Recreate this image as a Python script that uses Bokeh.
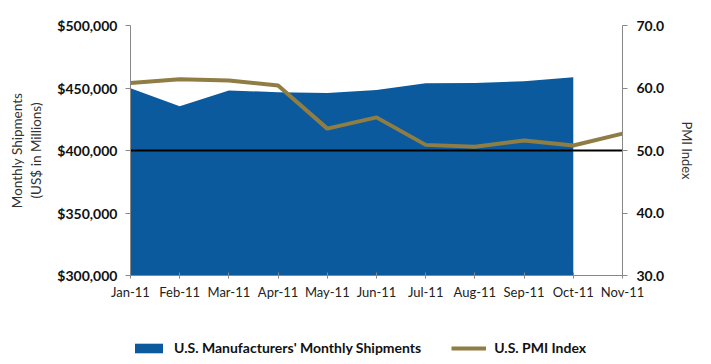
from bokeh.plotting import figure
from bokeh.models import (Range1d, LinearAxis, NumeralTickFormatter, Legend,
                          LegendItem, FixedTicker, ColumnDataSource)
from bokeh.embed import file_html
from bokeh.resources import INLINE

months = ["Jan-11", "Feb-11", "Mar-11", "Apr-11", "May-11", "Jun-11",
          "Jul-11", "Aug-11", "Sep-11", "Oct-11", "Nov-11"]
shipments = [449800, 435500, 448000, 446700, 446000, 448500,
             453900, 454100, 455500, 458700]
pmi = [60.8, 61.4, 61.2, 60.4, 53.5, 55.3, 50.9, 50.6, 51.6, 50.8, 52.7]
left_ticks = [300000, 350000, 400000, 450000, 500000]
right_ticks = [30, 40, 50, 60, 70]
threshold = 400000  # = PMI 50.0

FONT = "Lato"
BLUE = "#0B5A9E"
GOLD = "#8F7D43"

# the frame covers the whole canvas; axes are pinned at data locations
X_LO, X_HI = -2.642, 11.484
Y_LO, Y_HI = 235200, 520000
P_LO, P_HI = 17.04, 74.0

n = len(months)
xs_ship = list(range(len(shipments)))
xs_pmi = list(range(len(pmi)))

p = figure(width=695, height=356, output_backend="svg", toolbar_location=None,
           title=None,
           x_range=Range1d(X_LO, X_HI), y_range=Range1d(Y_LO, Y_HI),
           min_border_left=0, min_border_right=0, min_border_top=0,
           min_border_bottom=0)
p.outline_line_color = None
p.xgrid.visible = False
p.ygrid.visible = False
p.extra_y_ranges = {"pmi": Range1d(P_LO, P_HI)}

src = ColumnDataSource(dict(x=xs_ship, y=shipments, base=[left_ticks[0]] * len(shipments)))
area = p.varea(x="x", y1="base", y2="y", source=src, fill_color=BLUE)
p.segment(x0=[0], x1=[n - 1], y0=[threshold], y1=[threshold],
          line_color="black", line_width=2)
line = p.line(xs_pmi, pmi, y_range_name="pmi", line_color=GOLD, line_width=4)

# x axis, drawn at the $300,000 baseline
xa = p.xaxis[0]
xa.fixed_location = left_ticks[0]
xa.bounds = (0, n - 1)
xa.ticker = FixedTicker(ticks=list(range(n)))
xa.major_label_overrides = {i: m for i, m in enumerate(months)}
xa.major_label_text_font = FONT
xa.major_label_text_font_size = "13px"
xa.major_label_text_color = "#222222"
xa.axis_line_color = "#888888"
xa.major_tick_line_color = "#888888"
xa.major_tick_in = 3
xa.major_tick_out = 3
xa.minor_tick_line_color = None

# left axis at Jan-11
ya = p.yaxis[0]
ya.fixed_location = 0
ya.bounds = (left_ticks[0], left_ticks[-1])
ya.ticker = FixedTicker(ticks=left_ticks)
ya.formatter = NumeralTickFormatter(format="$0,0")
ya.major_label_text_font = FONT
ya.major_label_text_font_style = "bold"
ya.major_label_text_font_size = "14px"
ya.major_label_text_color = "#111111"
ya.axis_line_color = "#888888"
ya.major_tick_line_color = "#888888"
ya.major_tick_in = 0
ya.major_tick_out = 5
ya.minor_tick_line_color = None
ya.major_label_standoff = 8
ya.axis_label = "Monthly Shipments\n(US$ in Millions)"
ya.axis_label_text_font = FONT
ya.axis_label_text_font_style = "normal"
ya.axis_label_text_font_size = "13.5px"
ya.axis_label_text_color = "#333333"
ya.axis_label_standoff = 10

# right axis at Nov-11
ra = LinearAxis(y_range_name="pmi")
ra.fixed_location = n - 1
ra.bounds = (right_ticks[0], right_ticks[-1])
ra.ticker = FixedTicker(ticks=right_ticks)
ra.formatter = NumeralTickFormatter(format="0.0")
ra.major_label_text_font = FONT
ra.major_label_text_font_style = "bold"
ra.major_label_text_font_size = "14px"
ra.major_label_text_color = "#111111"
ra.axis_line_color = "#888888"
ra.major_tick_line_color = "#888888"
ra.major_tick_in = 0
ra.major_tick_out = 5
ra.minor_tick_line_color = None
ra.major_label_standoff = 9
ra.axis_label = "PMI Index"
ra.axis_label_text_font = FONT
ra.axis_label_text_font_style = "normal"
ra.axis_label_text_font_size = "13px"
ra.axis_label_text_color = "#333333"
ra.axis_label_standoff = 12
p.add_layout(ra, "right")

legend = Legend(items=[LegendItem(label="U.S. Manufacturers' Monthly Shipments", renderers=[area]),
                       LegendItem(label="U.S. PMI Index", renderers=[line])],
                orientation="horizontal", location=(131, 0),
                label_text_font=FONT, label_text_font_size="14px",
                label_text_font_style="bold", label_text_color="#111111",
                glyph_width=35, glyph_height=12, label_standoff=8, spacing=30,
                border_line_color=None, background_fill_alpha=0, padding=4,
                margin=0)
p.add_layout(legend)

open("out.html", "w").write(file_html(p, INLINE))
